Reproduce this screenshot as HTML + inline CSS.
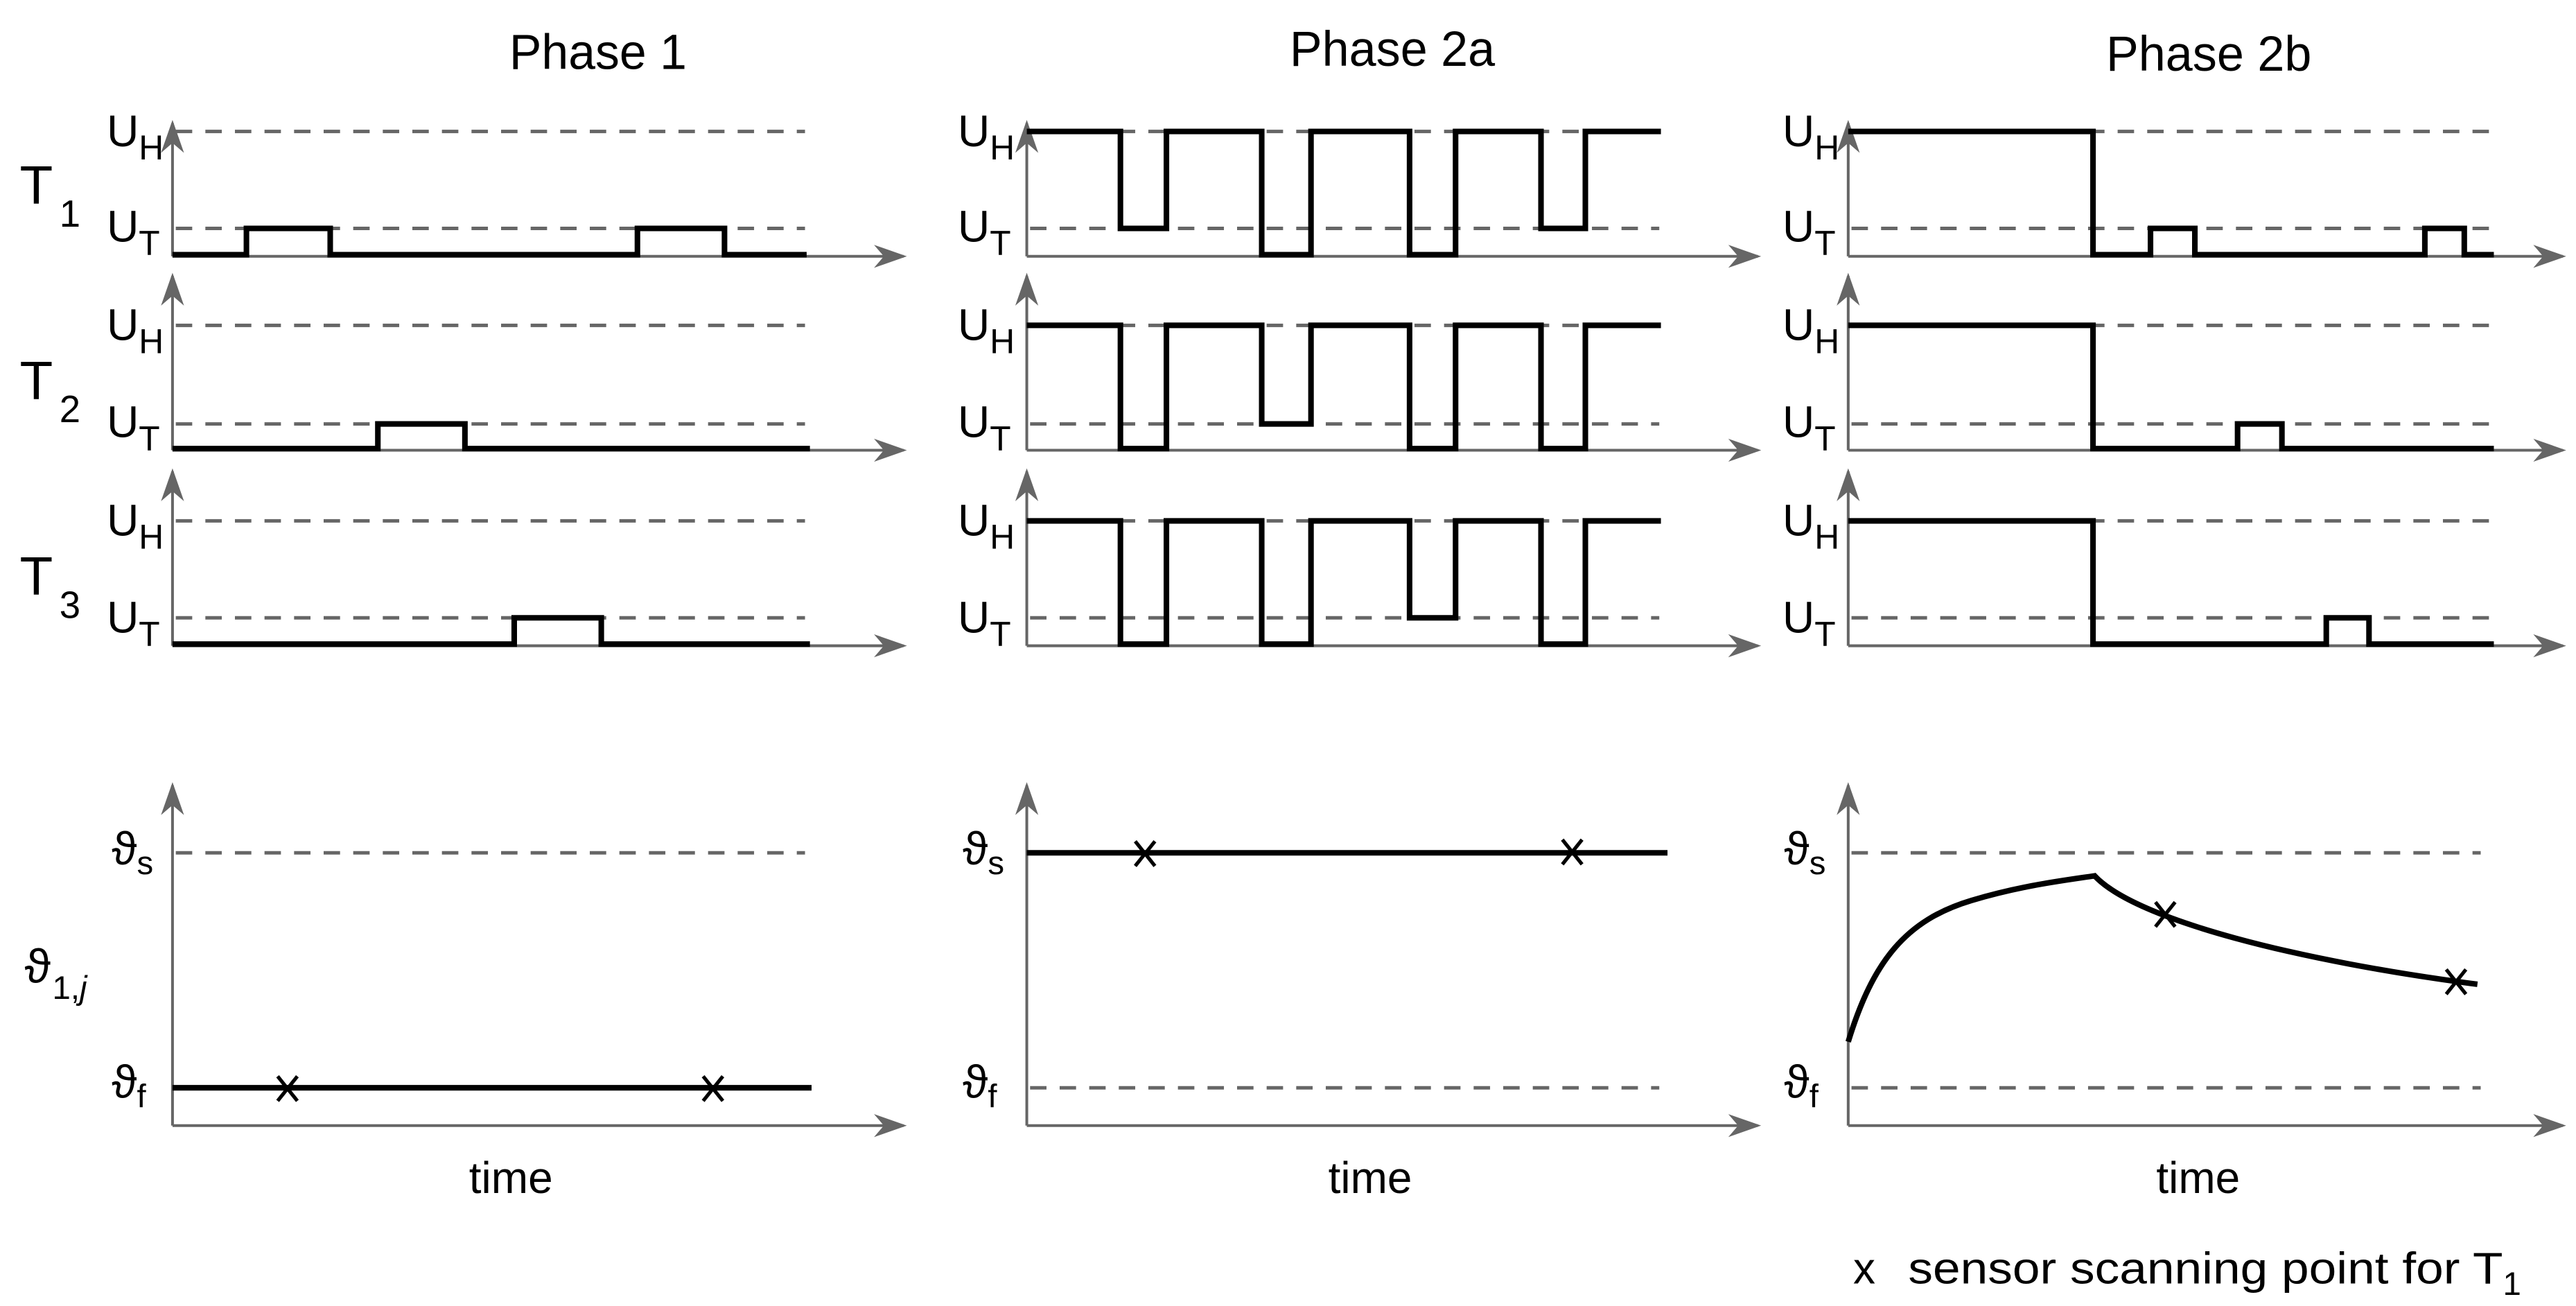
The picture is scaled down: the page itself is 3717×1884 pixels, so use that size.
<!DOCTYPE html>
<html><head><style>html,body{margin:0;padding:0;background:#fff;}svg{display:block;}</style></head>
<body>
<svg width="3717" height="1884" viewBox="0 0 1568 794.8" preserveAspectRatio="none" xmlns="http://www.w3.org/2000/svg" font-family="Liberation Sans, DejaVu Sans, sans-serif">
<defs>
<marker id="ahL" viewBox="0 0 20 16" markerWidth="20" markerHeight="16" refX="18" refY="8" orient="auto" markerUnits="userSpaceOnUse">
<path d="M0,1 L20,8 L0,15 L6,8 Z" fill="#666"/>
</marker>
</defs>
<g font-size="30" fill="#000">
<text x="310" y="42" textLength="108" lengthAdjust="spacingAndGlyphs">Phase 1</text>
<text x="785" y="40" textLength="125" lengthAdjust="spacingAndGlyphs">Phase 2a</text>
<text x="1282" y="43" textLength="125" lengthAdjust="spacingAndGlyphs">Phase 2b</text>
</g>
<g fill="#000">
<text x="12" y="124" font-size="33">T<tspan font-size="23" dx="4" dy="14">1</tspan></text>
<text x="12" y="243" font-size="33">T<tspan font-size="23" dx="4" dy="14">2</tspan></text>
<text x="12" y="362" font-size="33">T<tspan font-size="23" dx="4" dy="14">3</tspan></text>
<text x="15" y="598" font-size="29">ϑ<tspan font-size="20" dx="1" dy="10">1,<tspan font-style="italic">j</tspan></tspan></text>
</g>
<g stroke="#666" stroke-width="1.7" fill="none">
<line x1="105" y1="156" x2="105" y2="75" marker-end="url(#ahL)"/>
<line x1="105" y1="156" x2="550" y2="156" marker-end="url(#ahL)"/>
<line x1="105" y1="274" x2="105" y2="168" marker-end="url(#ahL)"/>
<line x1="105" y1="274" x2="550" y2="274" marker-end="url(#ahL)"/>
<line x1="105" y1="393" x2="105" y2="287" marker-end="url(#ahL)"/>
<line x1="105" y1="393" x2="550" y2="393" marker-end="url(#ahL)"/>
<line x1="105" y1="685" x2="105" y2="478" marker-end="url(#ahL)"/>
<line x1="105" y1="685" x2="550" y2="685" marker-end="url(#ahL)"/>
<line x1="625" y1="156" x2="625" y2="75" marker-end="url(#ahL)"/>
<line x1="625" y1="156" x2="1070" y2="156" marker-end="url(#ahL)"/>
<line x1="625" y1="274" x2="625" y2="168" marker-end="url(#ahL)"/>
<line x1="625" y1="274" x2="1070" y2="274" marker-end="url(#ahL)"/>
<line x1="625" y1="393" x2="625" y2="287" marker-end="url(#ahL)"/>
<line x1="625" y1="393" x2="1070" y2="393" marker-end="url(#ahL)"/>
<line x1="625" y1="685" x2="625" y2="478" marker-end="url(#ahL)"/>
<line x1="625" y1="685" x2="1070" y2="685" marker-end="url(#ahL)"/>
<line x1="1125" y1="156" x2="1125" y2="75" marker-end="url(#ahL)"/>
<line x1="1125" y1="156" x2="1560" y2="156" marker-end="url(#ahL)"/>
<line x1="1125" y1="274" x2="1125" y2="168" marker-end="url(#ahL)"/>
<line x1="1125" y1="274" x2="1560" y2="274" marker-end="url(#ahL)"/>
<line x1="1125" y1="393" x2="1125" y2="287" marker-end="url(#ahL)"/>
<line x1="1125" y1="393" x2="1560" y2="393" marker-end="url(#ahL)"/>
<line x1="1125" y1="685" x2="1125" y2="478" marker-end="url(#ahL)"/>
<line x1="1125" y1="685" x2="1560" y2="685" marker-end="url(#ahL)"/>
</g>
<g stroke="#666" stroke-width="2.1" stroke-dasharray="10,8" fill="none">
<line x1="107" y1="80" x2="490" y2="80"/><line x1="107" y1="139" x2="490" y2="139"/>
<line x1="107" y1="198" x2="490" y2="198"/><line x1="107" y1="258" x2="490" y2="258"/>
<line x1="107" y1="317" x2="490" y2="317"/><line x1="107" y1="376" x2="490" y2="376"/>
<line x1="107" y1="519" x2="490" y2="519"/>
<line x1="627" y1="80" x2="1010" y2="80"/><line x1="627" y1="139" x2="1010" y2="139"/>
<line x1="627" y1="198" x2="1010" y2="198"/><line x1="627" y1="258" x2="1010" y2="258"/>
<line x1="627" y1="317" x2="1010" y2="317"/><line x1="627" y1="376" x2="1010" y2="376"/>
<line x1="627" y1="662" x2="1010" y2="662"/>
<line x1="1127" y1="80" x2="1518" y2="80"/><line x1="1127" y1="139" x2="1518" y2="139"/>
<line x1="1127" y1="198" x2="1518" y2="198"/><line x1="1127" y1="258" x2="1518" y2="258"/>
<line x1="1127" y1="317" x2="1518" y2="317"/><line x1="1127" y1="376" x2="1518" y2="376"/>
<line x1="1127" y1="519" x2="1510" y2="519"/><line x1="1127" y1="662" x2="1510" y2="662"/>
</g>
<g stroke="#000" stroke-width="3.4" fill="none" stroke-linejoin="miter">
<polyline points="105,155 150,155 150,139 201,139 201,155 388,155 388,139 441,139 441,155 491,155"/>
<polyline points="105,273 230,273 230,258 283,258 283,273 493,273"/>
<polyline points="105,392 313,392 313,376 366,376 366,392 493,392"/>
<line x1="105" y1="662" x2="494" y2="662"/>
<polyline points="625,80 682,80 682,139 710,139 710,80 768,80 768,155 798,155 798,80 858,80 858,155 886,155 886,80 938,80 938,139 965,139 965,80 1011,80"/>
<polyline points="625,198 682,198 682,273 710,273 710,198 768,198 768,258 798,258 798,198 858,198 858,273 886,273 886,198 938,198 938,273 965,273 965,198 1011,198"/>
<polyline points="625,317 682,317 682,392 710,392 710,317 768,317 768,392 798,392 798,317 858,317 858,376 886,376 886,317 938,317 938,392 965,392 965,317 1011,317"/>
<line x1="625" y1="519" x2="1015" y2="519"/>
<polyline points="1125,80 1274,80 1274,155 1309,155 1309,139 1336,139 1336,155 1476,155 1476,139 1500,139 1500,155 1518,155"/>
<polyline points="1125,198 1274,198 1274,273 1362,273 1362,258 1389,258 1389,273 1518,273"/>
<polyline points="1125,317 1274,317 1274,392 1416,392 1416,376 1442,376 1442,392 1518,392"/>
<path d="M1125,634 C1140,585 1160,560 1200,548 C1230,539 1255,536 1275,533 C1300,560 1400,585 1508,599"/>
</g>
<g stroke="#000" stroke-width="2.2" fill="none">
<path d="M169,655 L181,670 M181,655 L169,670"/>
<path d="M428,655 L440,670 M440,655 L428,670"/>
<path d="M691,512 L703,527 M703,512 L691,527"/>
<path d="M951,511 L963,526 M963,511 L951,526"/>
<path d="M1312,549 L1324,564 M1324,549 L1312,564"/>
<path d="M1489,590 L1501,605 M1501,590 L1489,605"/>
</g>
<g fill="#000" font-size="27">
<text x="65" y="89">U<tspan font-size="21" dy="8">H</tspan></text>
<text x="65" y="147">U<tspan font-size="21" dy="8">T</tspan></text>
<text x="65" y="207">U<tspan font-size="21" dy="8">H</tspan></text>
<text x="65" y="266">U<tspan font-size="21" dy="8">T</tspan></text>
<text x="65" y="326">U<tspan font-size="21" dy="8">H</tspan></text>
<text x="65" y="385">U<tspan font-size="21" dy="8">T</tspan></text>
<text x="583" y="89">U<tspan font-size="21" dy="8">H</tspan></text>
<text x="583" y="147">U<tspan font-size="21" dy="8">T</tspan></text>
<text x="583" y="207">U<tspan font-size="21" dy="8">H</tspan></text>
<text x="583" y="266">U<tspan font-size="21" dy="8">T</tspan></text>
<text x="583" y="326">U<tspan font-size="21" dy="8">H</tspan></text>
<text x="583" y="385">U<tspan font-size="21" dy="8">T</tspan></text>
<text x="1085" y="89">U<tspan font-size="21" dy="8">H</tspan></text>
<text x="1085" y="147">U<tspan font-size="21" dy="8">T</tspan></text>
<text x="1085" y="207">U<tspan font-size="21" dy="8">H</tspan></text>
<text x="1085" y="266">U<tspan font-size="21" dy="8">T</tspan></text>
<text x="1085" y="326">U<tspan font-size="21" dy="8">H</tspan></text>
<text x="1085" y="385">U<tspan font-size="21" dy="8">T</tspan></text>
</g>
<g fill="#000" font-size="28">
<text x="68" y="526">ϑ<tspan font-size="20" dy="6">s</tspan></text>
<text x="68" y="668">ϑ<tspan font-size="20" dy="6">f</tspan></text>
<text x="586" y="526">ϑ<tspan font-size="20" dy="6">s</tspan></text>
<text x="586" y="668">ϑ<tspan font-size="20" dy="6">f</tspan></text>
<text x="1086" y="526">ϑ<tspan font-size="20" dy="6">s</tspan></text>
<text x="1086" y="668">ϑ<tspan font-size="20" dy="6">f</tspan></text>
</g>
<g fill="#000" font-size="27" text-anchor="middle">
<text x="311" y="726">time</text>
<text x="834" y="726">time</text>
<text x="1338" y="726">time</text>
</g>
<text x="1128" y="781" font-size="27" fill="#000">x<tspan dx="20" textLength="362" lengthAdjust="spacingAndGlyphs">sensor scanning point for T</tspan><tspan font-size="20" dy="7">1</tspan></text>
</svg>
</body></html>
